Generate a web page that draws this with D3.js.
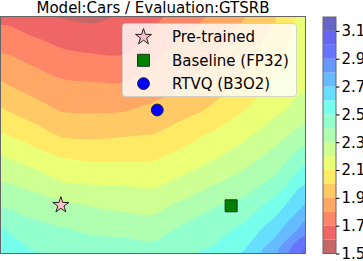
<!DOCTYPE html>
<html>
<head>
<meta charset="utf-8">
<script src="https://cdn.jsdelivr.net/npm/d3@7"></script>
<style>
    body { margin: 0; background: #fff; }
    text { font-family: "DejaVu Sans", sans-serif; }
</style>
</head>
<body>
<div id="vis-container"></div>
<script>
// Grid positions (fraction of the axes), top row first
var gridX = [0, 0.1, 0.2, 0.3, 0.4, 0.5, 0.6, 0.7, 0.8, 0.9, 1.0];
var gridY = [1.0, 0.9, 0.8, 0.7, 0.6, 0.5, 0.4, 0.3, 0.2, 0.1, 0.0];

// Loss values, one row per gridY entry
var lossRows = [
    [1.67, 1.63, 1.595, 1.58, 1.61, 1.676, 1.745, 1.82, 1.897, 1.99, 2.14],
    [1.757, 1.718, 1.674, 1.655, 1.66, 1.721, 1.812, 1.87, 1.939, 2.041, 2.157],
    [1.836, 1.797, 1.754, 1.738, 1.727, 1.805, 1.857, 1.918, 1.977, 2.083, 2.174],
    [1.922, 1.870, 1.829, 1.821, 1.822, 1.861, 1.902, 1.963, 2.03, 2.13, 2.19],
    [2.014, 1.955, 1.898, 1.892, 1.898, 1.925, 1.971, 2.02, 2.101, 2.181, 2.243],
    [2.113, 2.055, 1.988, 1.981, 1.992, 2.003, 2.056, 2.119, 2.177, 2.258, 2.348],
    [2.213, 2.159, 2.103, 2.085, 2.086, 2.091, 2.141, 2.193, 2.261, 2.341, 2.463],
    [2.297, 2.265, 2.2, 2.188, 2.188, 2.176, 2.224, 2.288, 2.347, 2.426, 2.585],
    [2.384, 2.356, 2.327, 2.295, 2.277, 2.267, 2.327, 2.395, 2.435, 2.544, 2.709],
    [2.51, 2.437, 2.408, 2.383, 2.37, 2.357, 2.42, 2.459, 2.527, 2.66, 2.844],
    [2.58, 2.51, 2.47, 2.45, 2.46, 2.445, 2.48, 2.52, 2.61, 2.77, 3.04]
];

var levels = [1.5, 1.6, 1.7, 1.8, 1.9, 2.0, 2.1, 2.2, 2.3, 2.4, 2.5, 2.6, 2.7, 2.8, 2.9, 3.0, 3.1, 3.2];
var cbarTicks = [1.5, 1.7, 1.9, 2.1, 2.3, 2.5, 2.7, 2.9, 3.1];

var pointNames = ["Pre-trained", "Baseline (FP32)", "RTVQ (B3O2)"];
var pointX = [0.197, 0.757, 0.514];
var pointY = [0.203, 0.2, 0.606];

var titleText = "Model:Cars / Evaluation:GTSRB";

// Layout
var width = 363;
var height = 261;
var plot = { left: 1, right: 305, top: 17, bottom: 253 };
var cbar = { left: 323, right: 336 };

var svg = d3.select("#vis-container").append("svg")
    .attr("width", width)
    .attr("height", height);

svg.append("defs").append("clipPath")
    .attr("id", "clip")
    .append("rect")
    .attr("x", plot.left)
    .attr("y", plot.top)
    .attr("width", plot.right - plot.left)
    .attr("height", plot.bottom - plot.top);

var x = d3.scaleLinear().domain([0, 1]).range([plot.left, plot.right]);
var y = d3.scaleLinear().domain([0, 1]).range([plot.bottom, plot.top]);

// reversed jet colormap, blended with white as with alpha 0.6
var jetR = d3.scaleLinear().domain([0, 0.35, 0.66, 0.89, 1]).range([0, 0, 1, 1, 0.5]).clamp(true);
var jetG = d3.scaleLinear().domain([0, 0.125, 0.375, 0.64, 0.91, 1]).range([0, 0, 1, 1, 0, 0]).clamp(true);
var jetB = d3.scaleLinear().domain([0, 0.11, 0.34, 0.65, 1]).range([0.5, 1, 1, 0, 0]).clamp(true);
var alpha = 0.6;
function jetRev(t) {
    var s = 1 - t;
    var mix = function (c) { return 255 * (c * alpha + (1 - alpha)); };
    return d3.rgb(mix(jetR(s)), mix(jetG(s)), mix(jetB(s))).formatHex();
}
var nBands = levels.length - 1;
function bandColor(i) {
    return jetRev((i + 0.5) / nBands);
}

// Filled contours
var nx = gridX.length, ny = gridY.length;
var values = d3.merge(lossRows);
var gx = d3.scaleLinear().domain([0.5, nx - 0.5]).range([gridX[0], gridX[nx - 1]]);
var gy = d3.scaleLinear().domain([0.5, ny - 0.5]).range([gridY[0], gridY[ny - 1]]);
var contours = d3.contours().size([nx, ny]);
var ringLine = d3.line().curve(d3.curveCatmullRomClosed.alpha(0.5));

function contourPath(geom) {
    return geom.coordinates.map(function (poly) {
        return poly.map(function (ring) {
            var pts = ring.slice(0, -1).map(function (p) {
                return [x(gx(p[0])), y(gy(p[1]))];
            });
            return ringLine(pts);
        }).join("");
    }).join("");
}

var contourG = svg.append("g").attr("clip-path", "url(#clip)");
levels.slice(0, -1).forEach(function (t, i) {
    contourG.append("path")
        .attr("d", contourPath(contours.contour(values, t)))
        .attr("fill", bandColor(i));
});

// Axes frame
svg.append("rect")
    .attr("x", plot.left - 0.5)
    .attr("y", plot.top - 0.5)
    .attr("width", plot.right - plot.left + 1)
    .attr("height", plot.bottom - plot.top + 1)
    .attr("fill", "none")
    .attr("stroke", "#666")
    .attr("stroke-width", 1);

// Markers
var markerFill = ["#ffc0cb", "#008000", "#0000ff"];
var markerStroke = ["#222", "#1a3a1a", "#1a1a4a"];
var markerSymbol = [d3.symbolStar, d3.symbolSquare, d3.symbolCircle];
var markerSize = [80, 144, 110];
var symbol = d3.symbol();

function drawMarker(g, i, cx, cy) {
    g.append("path")
        .attr("d", symbol.type(markerSymbol[i]).size(markerSize[i])())
        .attr("transform", "translate(" + cx + "," + cy + ")")
        .attr("fill", markerFill[i])
        .attr("stroke", markerStroke[i])
        .attr("stroke-width", 1);
}

var pointsG = svg.append("g");
pointNames.forEach(function (name, i) {
    drawMarker(pointsG, i, x(pointX[i]), y(pointY[i]));
});

// Legend
var legend = svg.append("g");
legend.append("rect")
    .attr("x", 122.5)
    .attr("y", 23.5)
    .attr("width", 174)
    .attr("height", 73)
    .attr("rx", 3)
    .attr("fill", "#fff")
    .attr("fill-opacity", 0.8)
    .attr("stroke", "#ccc")
    .attr("stroke-opacity", 0.8);
pointNames.forEach(function (name, i) {
    var cy = 37 + i * 23.3;
    drawMarker(legend, i, 143.5, cy);
    legend.append("text")
        .attr("x", 172)
        .attr("y", cy)
        .attr("dy", "0.36em")
        .attr("font-size", 15)
        .attr("fill", "#000")
        .text(name);
});

// Title
svg.append("text")
    .attr("x", (plot.left + plot.right) / 2)
    .attr("y", 12.5)
    .attr("text-anchor", "middle")
    .attr("font-size", 15)
    .attr("fill", "#000")
    .text(titleText);

// Colorbar
var cy = d3.scaleLinear().domain([levels[0], levels[nBands]]).range([plot.bottom + 0.5, plot.top]);
var cbarG = svg.append("g");
levels.slice(0, -1).forEach(function (t, i) {
    cbarG.append("rect")
        .attr("x", cbar.left)
        .attr("y", cy(levels[i + 1]))
        .attr("width", cbar.right - cbar.left)
        .attr("height", cy(t) - cy(levels[i + 1]))
        .attr("fill", bandColor(i));
});
cbarG.append("rect")
    .attr("x", cbar.left)
    .attr("y", cy(levels[nBands]))
    .attr("width", cbar.right - cbar.left)
    .attr("height", cy(levels[0]) - cy(levels[nBands]))
    .attr("fill", "none")
    .attr("stroke", "#666")
    .attr("stroke-width", 1);

var cbarAxis = d3.axisRight(cy)
    .tickValues(cbarTicks)
    .tickFormat(d3.format(".1f"))
    .tickSize(3.5)
    .tickPadding(2);
var cbarAxisG = svg.append("g")
    .attr("transform", "translate(" + cbar.right + ",0)")
    .call(cbarAxis);
cbarAxisG.select(".domain").remove();
cbarAxisG.selectAll("text")
    .attr("font-size", 15)
    .attr("font-family", "DejaVu Sans, sans-serif")
    .attr("fill", "#000");
cbarAxisG.selectAll("line").attr("stroke", "#000");
</script>
</body>
</html>
